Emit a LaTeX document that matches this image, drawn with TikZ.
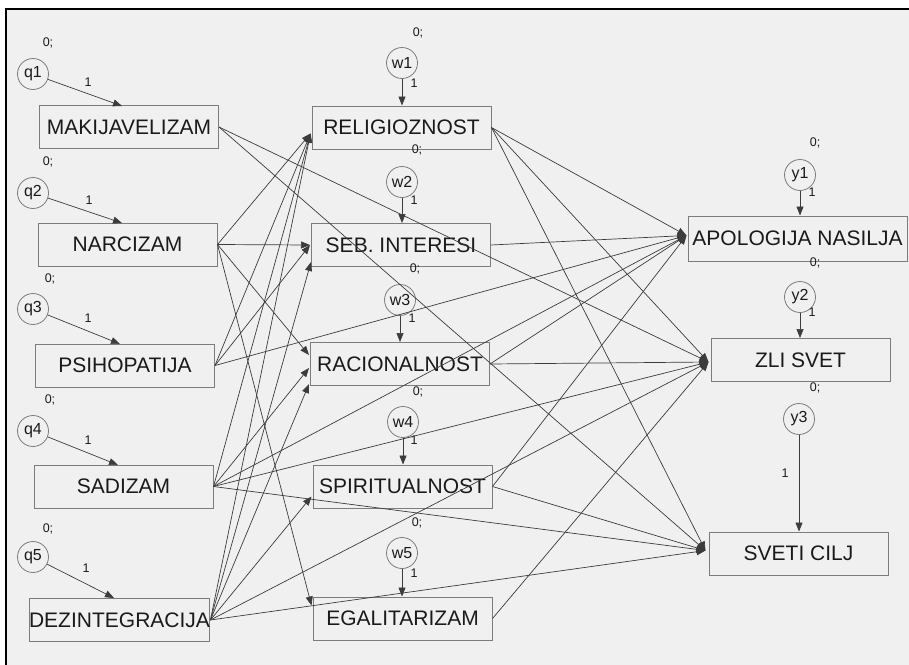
\documentclass[tikz,border=0pt]{standalone}
\usepackage{fontspec}
\setmainfont{Liberation Sans}
\usetikzlibrary{arrows.meta,calc}
\definecolor{bg}{HTML}{F0F0F0}
\definecolor{edge}{HTML}{7C7C7C}
\definecolor{ln}{HTML}{3C3C3C}
\definecolor{tx}{HTML}{1A1A1A}
\begin{document}
\begin{tikzpicture}[x=1pt,y=-1pt,
 var/.style={draw=edge, line width=1pt, minimum width=179pt, minimum height=43pt, inner sep=0pt, text=tx, font=\fontsize{21}{22}\selectfont},
 err/.style={draw=edge, line width=0.8pt, circle, minimum size=31pt, inner sep=0pt, text=tx, font=\fontsize{16}{16}\selectfont},
 lab/.style={text=tx, font=\fontsize{12.5}{13}\selectfont, inner sep=0pt},
 arr/.style={draw=ln, line width=0.7pt, -{Triangle[length=9pt,width=7pt]}},
]
\useasboundingbox (0,0) rectangle (909,664);
\clip (0,0) rectangle (909,664);
\fill[white] (0,0) rectangle (909,664);
\draw[fill=bg, line width=1.2pt] (6,9) rectangle (930,690);

% observed variables
\node[var] (MAK) at (129,127) {MAKIJAVELIZAM};
\node[var] (NAR) at (127.5,244.5) {NARCIZAM};
\node[var] (PSI) at (125,365.5) {PSIHOPATIJA};
\node[var] (SAD) at (123.5,486.5) {SADIZAM};
\node[var] (DEZ) at (119.5,620) {DEZINTEGRACIJA};
\node[var] (REL) at (401.5,127.5) {RELIGIOZNOST};
\node[var] (SEB) at (401,245) {SEB. INTERESI};
\node[var] (RAC) at (400,364) {RACIONALNOST};
\node[var] (SPI) at (402.5,486.5) {SPIRITUALNOST};
\node[var] (EGA) at (402.5,618.5) {EGALITARIZAM};
\node[var, minimum width=219pt, minimum height=45pt] (APO) at (797.5,238.5) {APOLOGIJA NASILJA};
\node[var] (ZLI) at (800.5,360) {ZLI SVET};
\node[var] (SVE) at (798.5,553.5) {SVETI CILJ};

% error terms
\node[err] (q1) at (33,74) {q1};
\node[err] (q2) at (33,193) {q2};
\node[err] (q3) at (33,309) {q3};
\node[err] (q4) at (33,431) {q4};
\node[err] (q5) at (33,557) {q5};
\node[err] (w1) at (402,63) {w1};
\node[err] (w2) at (402,182) {w2};
\node[err] (w3) at (400,300) {w3};
\node[err] (w4) at (403,422) {w4};
\node[err] (w5) at (402,553) {w5};
\node[err] (y1) at (800,175) {y1};
\node[err] (y2) at (800,297) {y2};
\node[err] (y3) at (799,419) {y3};

% labels
\foreach \n/\x/\y in {a/48/43,b/48/162,c/50/279,d/50/400,e/48/529,f/418/33,g/417/150,h/415/269,i/418/392,j/417/523,k/815/143,l/815/263,m/815/388}
  \node[lab] (z\n) at (\x,\y) {0;};
\foreach \n/\x/\y in {a/88/82,b/89/200,c/88/318,d/88/440,e/86/568,f/414/83,g/414/200,h/412/318,i/414/440,j/414/573,k/812/192,l/812/312,m/785/473}
  \node[lab] (o\n) at (\x,\y) {1};

% targets of error arrows on the boxes
\coordinate (t1) at (122,106);
\coordinate (t2) at (122,223);
\coordinate (t3) at (120,344);
\coordinate (t4) at (118,465);
\coordinate (t5) at (114,598);
\draw[arr] (q1) -- (t1);
\draw[arr] (q2) -- (t2);
\draw[arr] (q3) -- (t3);
\draw[arr] (q4) -- (t4);
\draw[arr] (q5) -- (t5);
\draw[arr] (w1) -- (w1 |- REL.north);
\draw[arr] (w2) -- (w2 |- SEB.north);
\draw[arr] (w3) -- (w3 |- RAC.north);
\draw[arr] (w4) -- (w4 |- SPI.north);
\draw[arr] (w5) -- (w5 |- EGA.north);
\draw[arr] (y1) -- (y1 |- APO.north);
\draw[arr] (y2) -- (y2 |- ZLI.north);
\draw[arr] (y3) -- (y3 |- SVE.north);

% arrival points
\coordinate (RELin) at ($(REL.west)+(-1,6)$);
\coordinate (SEBin) at ($(SEB.west)+(-1,0)$);
\coordinate (SEBin2) at ($(SEB.west)+(0,17)$);
\coordinate (RACin1) at ($(RAC.west)+(-1,-9)$);
\coordinate (RACin2) at ($(RAC.west)+(-1,4)$);
\coordinate (RACin3) at ($(RAC.west)+(-1,20)$);
\coordinate (SPIin) at ($(SPI.west)+(-1,10)$);
\coordinate (EGAin) at ($(EGA.west)+(-1,-13)$);
\coordinate (APOin) at ($(APO.west)+(-1,-3)$);
\coordinate (ZLIin) at ($(ZLI.west)+(-2,2)$);
\coordinate (SVEin) at ($(SVE.west)+(-3,-3)$);

% structural paths
\draw[arr] (MAK.east) -- (ZLIin);
\draw[arr] (MAK.east) -- (SVEin);
\draw[arr] (NAR.east) -- (RELin);
\draw[arr] (NAR.east) -- (SEBin);
\draw[arr] (NAR.east) -- (RACin1);
\draw[arr] (NAR.east) -- (EGAin);
\draw[arr] (PSI.east) -- (RELin);
\draw[arr] (PSI.east) -- (SEBin);
\draw[arr] (PSI.east) -- (APOin);
\draw[arr] (SAD.east) -- (RELin);
\draw[arr] (SAD.east) -- (RACin2);
\draw[arr] (SAD.east) -- (APOin);
\draw[arr] (SAD.east) -- (ZLIin);
\draw[arr] (SAD.east) -- (SVEin);
\draw[arr] (DEZ.east) -- (RELin);
\draw[arr] (DEZ.east) -- (SEBin2);
\draw[arr] (DEZ.east) -- (RACin3);
\draw[arr] (DEZ.east) -- (SPIin);
\draw[arr] (DEZ.east) -- (ZLIin);
\draw[arr] (DEZ.east) -- (SVEin);
\draw[arr] (REL.east) -- (APOin);
\draw[arr] (REL.east) -- (ZLIin);
\draw[arr] (REL.east) -- (SVEin);
\draw[arr] (SEB.east) -- (APOin);
\draw[arr] (RAC.east) -- (APOin);
\draw[arr] (RAC.east) -- (ZLIin);
\draw[arr] (SPI.east) -- (APOin);
\draw[arr] (SPI.east) -- (SVEin);
\draw[arr] (EGA.east) -- (ZLIin);
\end{tikzpicture}
\end{document}
